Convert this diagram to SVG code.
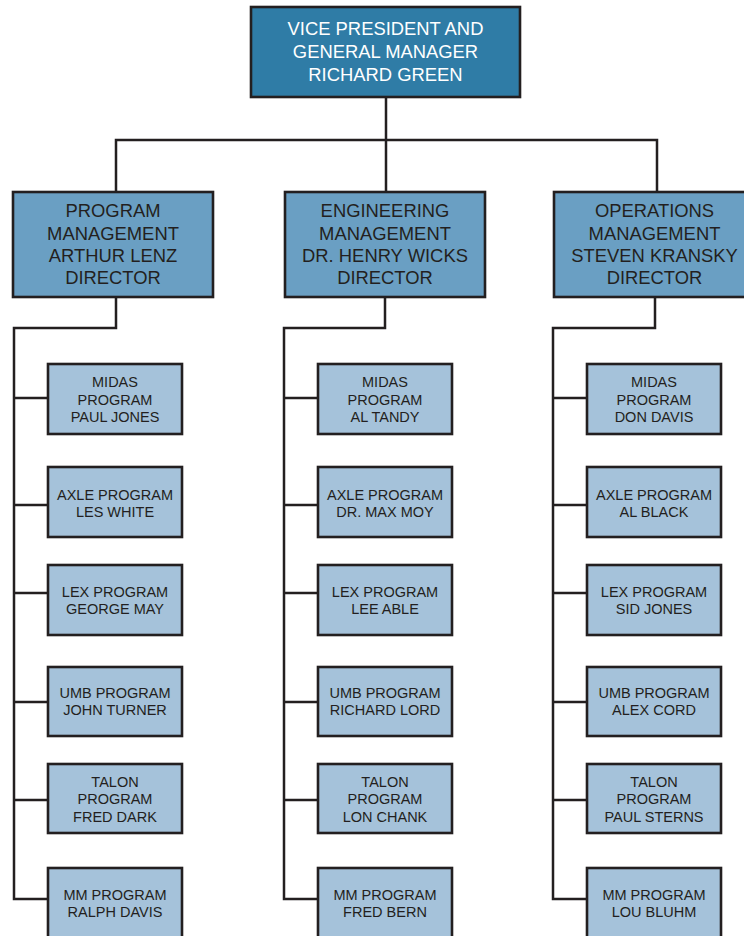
<svg xmlns="http://www.w3.org/2000/svg" width="744" height="936" viewBox="0 0 744 936">
<style>
.box{stroke:#231f20;stroke-width:2.6}
.top{fill:#2f7ca6}
.dir{fill:#6a9fc3}
.leaf{fill:#a5c2da}
.t{font-family:"Liberation Sans",Arial,sans-serif;text-anchor:middle;fill:#231f20}
.tw{fill:#ffffff;font-size:18.4px}
.td{font-size:18.4px}
.tl{font-size:14.5px}
.c{fill:none;stroke:#231f20;stroke-width:2.5}
</style>
<rect width="744" height="936" fill="#ffffff"/>
<g id="connectors">
<path class="c" d="M386 97V192M116 192V140H657V192"/>
<path class="c" d="M116 297V328H14V899H48M14 398H48M14 505H48M14 593H48M14 702H48M14 800H48"/>
<path class="c" d="M385 297V328H284V899H318M284 398H318M284 505H318M284 593H318M284 702H318M284 800H318"/>
<path class="c" d="M655 297V328H553V899H587M553 398H587M553 505H587M553 593H587M553 702H587M553 800H587"/>
</g>
<g id="vp"><rect class="box top" x="251" y="7" width="269" height="90"/>
<text class="t tw" x="385.5"><tspan x="385.5" y="35">VICE PRESIDENT AND</tspan><tspan x="385.5" y="58">GENERAL MANAGER</tspan><tspan x="385.5" y="81">RICHARD GREEN</tspan></text></g>
<g id="dir-program"><rect class="box dir" x="13" y="192" width="200" height="105"/>
<text class="t td"><tspan x="113" y="216.5">PROGRAM</tspan><tspan x="113" y="239.5">MANAGEMENT</tspan><tspan x="113" y="261.5">ARTHUR LENZ</tspan><tspan x="113" y="283.5">DIRECTOR</tspan></text></g>
<g id="dir-engineering"><rect class="box dir" x="285" y="192" width="200" height="105"/>
<text class="t td"><tspan x="385" y="216.5">ENGINEERING</tspan><tspan x="385" y="239.5">MANAGEMENT</tspan><tspan x="385" y="261.5">DR. HENRY WICKS</tspan><tspan x="385" y="283.5">DIRECTOR</tspan></text></g>
<g id="dir-operations"><rect class="box dir" x="554" y="192" width="202" height="105"/>
<text class="t td"><tspan x="654.5" y="216.5">OPERATIONS</tspan><tspan x="654.5" y="239.5">MANAGEMENT</tspan><tspan x="654.5" y="261.5">STEVEN KRANSKY</tspan><tspan x="654.5" y="283.5">DIRECTOR</tspan></text></g>

<g id="p-midas"><rect class="box leaf" x="48" y="364" width="134" height="70"/><text class="t tl"><tspan x="115" y="387">MIDAS</tspan><tspan x="115" y="405">PROGRAM</tspan><tspan x="115" y="422">PAUL JONES</tspan></text></g>
<g id="p-axle"><rect class="box leaf" x="48" y="467" width="134" height="70"/><text class="t tl"><tspan x="115" y="500">AXLE PROGRAM</tspan><tspan x="115" y="517">LES WHITE</tspan></text></g>
<g id="p-lex"><rect class="box leaf" x="48" y="565" width="134" height="70"/><text class="t tl"><tspan x="115" y="597">LEX PROGRAM</tspan><tspan x="115" y="614">GEORGE MAY</tspan></text></g>
<g id="p-umb"><rect class="box leaf" x="48" y="667" width="134" height="69"/><text class="t tl"><tspan x="115" y="698">UMB PROGRAM</tspan><tspan x="115" y="715">JOHN TURNER</tspan></text></g>
<g id="p-talon"><rect class="box leaf" x="48" y="764" width="134" height="69"/><text class="t tl"><tspan x="115" y="787">TALON</tspan><tspan x="115" y="804">PROGRAM</tspan><tspan x="115" y="822">FRED DARK</tspan></text></g>
<g id="p-mm"><rect class="box leaf" x="48" y="868" width="134" height="70"/><text class="t tl"><tspan x="115" y="900">MM PROGRAM</tspan><tspan x="115" y="917">RALPH DAVIS</tspan></text></g>

<g id="e-midas"><rect class="box leaf" x="318" y="364" width="134" height="70"/><text class="t tl"><tspan x="385" y="387">MIDAS</tspan><tspan x="385" y="405">PROGRAM</tspan><tspan x="385" y="422">AL TANDY</tspan></text></g>
<g id="e-axle"><rect class="box leaf" x="318" y="467" width="134" height="70"/><text class="t tl"><tspan x="385" y="500">AXLE PROGRAM</tspan><tspan x="385" y="517">DR. MAX MOY</tspan></text></g>
<g id="e-lex"><rect class="box leaf" x="318" y="565" width="134" height="70"/><text class="t tl"><tspan x="385" y="597">LEX PROGRAM</tspan><tspan x="385" y="614">LEE ABLE</tspan></text></g>
<g id="e-umb"><rect class="box leaf" x="318" y="667" width="134" height="69"/><text class="t tl"><tspan x="385" y="698">UMB PROGRAM</tspan><tspan x="385" y="715">RICHARD LORD</tspan></text></g>
<g id="e-talon"><rect class="box leaf" x="318" y="764" width="134" height="69"/><text class="t tl"><tspan x="385" y="787">TALON</tspan><tspan x="385" y="804">PROGRAM</tspan><tspan x="385" y="822">LON CHANK</tspan></text></g>
<g id="e-mm"><rect class="box leaf" x="318" y="868" width="134" height="70"/><text class="t tl"><tspan x="385" y="900">MM PROGRAM</tspan><tspan x="385" y="917">FRED BERN</tspan></text></g>

<g id="o-midas"><rect class="box leaf" x="587" y="364" width="134" height="70"/><text class="t tl"><tspan x="654" y="387">MIDAS</tspan><tspan x="654" y="405">PROGRAM</tspan><tspan x="654" y="422">DON DAVIS</tspan></text></g>
<g id="o-axle"><rect class="box leaf" x="587" y="467" width="134" height="70"/><text class="t tl"><tspan x="654" y="500">AXLE PROGRAM</tspan><tspan x="654" y="517">AL BLACK</tspan></text></g>
<g id="o-lex"><rect class="box leaf" x="587" y="565" width="134" height="70"/><text class="t tl"><tspan x="654" y="597">LEX PROGRAM</tspan><tspan x="654" y="614">SID JONES</tspan></text></g>
<g id="o-umb"><rect class="box leaf" x="587" y="667" width="134" height="69"/><text class="t tl"><tspan x="654" y="698">UMB PROGRAM</tspan><tspan x="654" y="715">ALEX CORD</tspan></text></g>
<g id="o-talon"><rect class="box leaf" x="587" y="764" width="134" height="69"/><text class="t tl"><tspan x="654" y="787">TALON</tspan><tspan x="654" y="804">PROGRAM</tspan><tspan x="654" y="822">PAUL STERNS</tspan></text></g>
<g id="o-mm"><rect class="box leaf" x="587" y="868" width="134" height="70"/><text class="t tl"><tspan x="654" y="900">MM PROGRAM</tspan><tspan x="654" y="917">LOU BLUHM</tspan></text></g>
</svg>
